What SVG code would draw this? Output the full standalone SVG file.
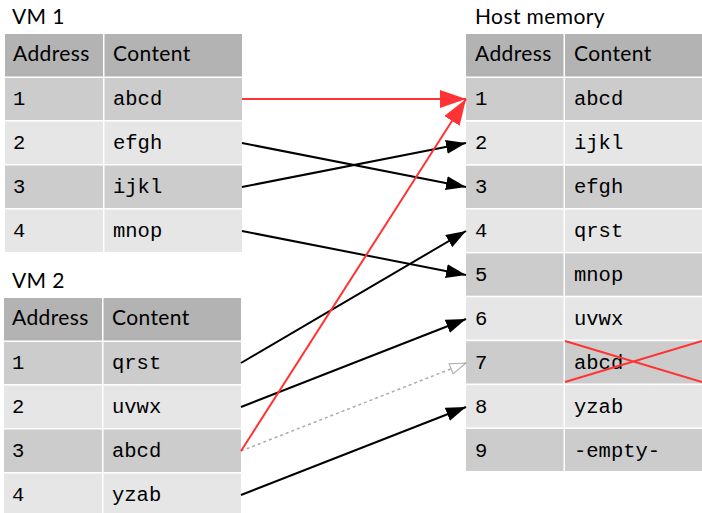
<svg xmlns="http://www.w3.org/2000/svg" width="702" height="513" viewBox="0 0 702 513">
<style>
.title{font-family:Lato,"Noto Sans","Liberation Sans",sans-serif;font-size:21px;letter-spacing:0.4px;fill:#000}
.hd{fill:#b3b3b3}
.r1{fill:#cccccc}
.r2{fill:#e6e6e6}
.mono{font-family:"Liberation Mono","DejaVu Sans Mono",monospace;font-size:20.5px;fill:#000}
.blk{stroke:#000;stroke-width:2;fill:none}
.red{stroke:#ff3333;stroke-width:2;fill:none}
.gry{stroke:#aaaaaa;stroke-width:1.5;stroke-dasharray:3 3;fill:none}
</style>
<defs>
<marker id="ab" markerUnits="userSpaceOnUse" markerWidth="20" markerHeight="14" refX="20" refY="7" orient="auto" viewBox="0 0 20 14">
<path d="M0,0 L20,7 L0,14 z" fill="#000"/>
</marker>
<marker id="ar" markerUnits="userSpaceOnUse" markerWidth="26" markerHeight="18" refX="26" refY="9" orient="auto" viewBox="0 0 26 18">
<path d="M0,0 L26,9 L0,18 z" fill="#ff3333"/>
</marker>
<marker id="ag" markerUnits="userSpaceOnUse" markerWidth="18" markerHeight="14" refX="17" refY="7" orient="auto" viewBox="0 0 18 14">
<path d="M1,1.5 L17,7 L1,12.5 z" fill="#fff" stroke="#aaaaaa" stroke-width="1"/>
</marker>
</defs>

<g id="vm1">
<text class="title" x="12" y="24">VM 1</text>
<rect class="hd" x="5" y="34" width="98" height="42.5"/>
<rect class="hd" x="104.5" y="34" width="137.5" height="42.5"/>
<text class="title" x="13" y="61">Address</text>
<text class="title" x="113" y="61">Content</text>
<rect class="r1" x="5" y="78" width="98" height="42"/>
<rect class="r1" x="104.5" y="78" width="137.5" height="42"/>
<text class="mono" x="13" y="105">1</text><text class="mono" x="113" y="105">abcd</text>
<rect class="r2" x="5" y="121.5" width="98" height="42.5"/>
<rect class="r2" x="104.5" y="121.5" width="137.5" height="42.5"/>
<text class="mono" x="13" y="149">2</text><text class="mono" x="113" y="149">efgh</text>
<rect class="r1" x="5" y="165.5" width="98" height="42.5"/>
<rect class="r1" x="104.5" y="165.5" width="137.5" height="42.5"/>
<text class="mono" x="13" y="193">3</text><text class="mono" x="113" y="193">ijkl</text>
<rect class="r2" x="5" y="209.5" width="98" height="42.5"/>
<rect class="r2" x="104.5" y="209.5" width="137.5" height="42.5"/>
<text class="mono" x="13" y="237">4</text><text class="mono" x="113" y="237">mnop</text>
</g>

<g id="vm2">
<text class="title" x="12" y="288">VM 2</text>
<rect class="hd" x="4" y="298" width="98" height="42.5"/>
<rect class="hd" x="103.5" y="298" width="137.5" height="42.5"/>
<text class="title" x="12" y="325">Address</text>
<text class="title" x="112" y="325">Content</text>
<rect class="r1" x="4" y="342" width="98" height="42"/>
<rect class="r1" x="103.5" y="342" width="137.5" height="42"/>
<text class="mono" x="12" y="369">1</text><text class="mono" x="112" y="369">qrst</text>
<rect class="r2" x="4" y="385.5" width="98" height="42.5"/>
<rect class="r2" x="103.5" y="385.5" width="137.5" height="42.5"/>
<text class="mono" x="12" y="413">2</text><text class="mono" x="112" y="413">uvwx</text>
<rect class="r1" x="4" y="429.5" width="98" height="42.5"/>
<rect class="r1" x="103.5" y="429.5" width="137.5" height="42.5"/>
<text class="mono" x="12" y="457">3</text><text class="mono" x="112" y="457">abcd</text>
<rect class="r2" x="4" y="473.5" width="98" height="42.5"/>
<rect class="r2" x="103.5" y="473.5" width="137.5" height="42.5"/>
<text class="mono" x="12" y="501">4</text><text class="mono" x="112" y="501">yzab</text>
</g>

<g id="host">
<text class="title" x="475" y="24">Host memory</text>
<rect class="hd" x="466" y="34" width="97.5" height="42.5"/>
<rect class="hd" x="565" y="34" width="137" height="42.5"/>
<text class="title" x="475" y="61">Address</text>
<text class="title" x="574" y="61">Content</text>
<rect class="r1" x="466" y="78" width="97.5" height="42"/><rect class="r1" x="565" y="78" width="137" height="42"/>
<text class="mono" x="475" y="105">1</text><text class="mono" x="574" y="105">abcd</text>
<rect class="r2" x="466" y="121.8" width="97.5" height="42.3"/><rect class="r2" x="565" y="121.8" width="137" height="42.3"/>
<text class="mono" x="475" y="149">2</text><text class="mono" x="574" y="149">ijkl</text>
<rect class="r1" x="466" y="165.7" width="97.5" height="42.3"/><rect class="r1" x="565" y="165.7" width="137" height="42.3"/>
<text class="mono" x="475" y="193">3</text><text class="mono" x="574" y="193">efgh</text>
<rect class="r2" x="466" y="209.6" width="97.5" height="42.3"/><rect class="r2" x="565" y="209.6" width="137" height="42.3"/>
<text class="mono" x="475" y="237">4</text><text class="mono" x="574" y="237">qrst</text>
<rect class="r1" x="466" y="253.4" width="97.5" height="42.3"/><rect class="r1" x="565" y="253.4" width="137" height="42.3"/>
<text class="mono" x="475" y="281">5</text><text class="mono" x="574" y="281">mnop</text>
<rect class="r2" x="466" y="297.3" width="97.5" height="42.3"/><rect class="r2" x="565" y="297.3" width="137" height="42.3"/>
<text class="mono" x="475" y="325">6</text><text class="mono" x="574" y="325">uvwx</text>
<rect class="r1" x="466" y="341.2" width="97.5" height="42.3"/><rect class="r1" x="565" y="341.2" width="137" height="42.3"/>
<text class="mono" x="475" y="369">7</text><text class="mono" x="574" y="369">abcd</text>
<rect class="r2" x="466" y="385.1" width="97.5" height="42.3"/><rect class="r2" x="565" y="385.1" width="137" height="42.3"/>
<text class="mono" x="475" y="413">8</text><text class="mono" x="574" y="413">yzab</text>
<rect class="r1" x="466" y="429" width="97.5" height="42"/><rect class="r1" x="565" y="429" width="137" height="42"/>
<text class="mono" x="475" y="457">9</text><text class="mono" x="574" y="457">-empty-</text>
<path class="red" d="M565,382 L702,341 M565,341 L702,382"/>
</g>

<g id="connectors">
<line class="red" x1="242" y1="99" x2="466" y2="99" marker-end="url(#ar)"/>
<line class="blk" x1="242" y1="143" x2="466" y2="187" marker-end="url(#ab)"/>
<line class="blk" x1="242" y1="187" x2="466" y2="143" marker-end="url(#ab)"/>
<line class="blk" x1="242" y1="231" x2="466" y2="275" marker-end="url(#ab)"/>
<line class="blk" x1="241" y1="363" x2="466" y2="231" marker-end="url(#ab)"/>
<line class="blk" x1="241" y1="407" x2="466" y2="319" marker-end="url(#ab)"/>
<line class="gry" x1="241" y1="451" x2="466" y2="363" marker-end="url(#ag)"/>
<line class="red" x1="241" y1="451" x2="466" y2="99" marker-end="url(#ar)"/>
<line class="blk" x1="241" y1="495" x2="466" y2="407" marker-end="url(#ab)"/>
</g>
</svg>
